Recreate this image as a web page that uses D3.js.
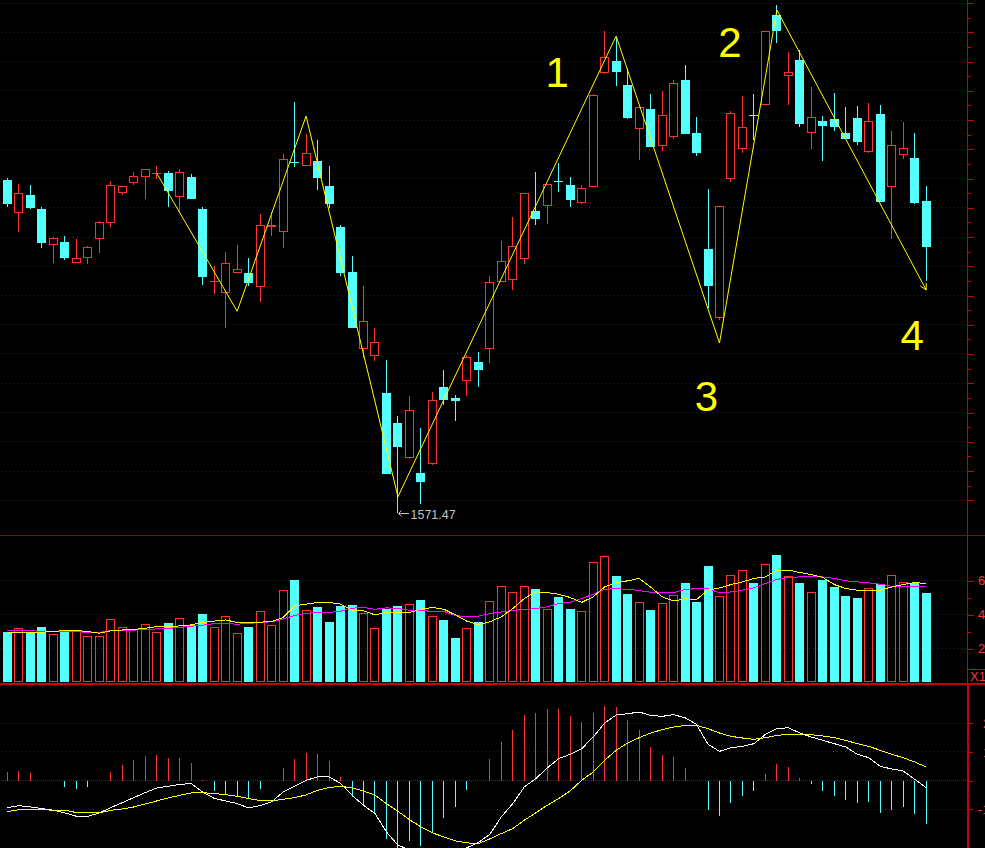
<!DOCTYPE html>
<html><head><meta charset="utf-8">
<script src="https://cdn.jsdelivr.net/npm/d3@7"></script>
<style>html,body{margin:0;padding:0;background:#000;overflow:hidden}svg{display:block}</style>
</head><body>
<svg id="c" width="985" height="848"></svg>
<script>
// ---------- DATA ----------
const open = [1799.0,1776.6,1788.7,1779.1,1754.7,1756.6,1742.4,1745.8,1758.8,1769.8,
  1790.3,1797.1,1801.2,1803.5,1803.8,1787.6,1801.0,1779.1,1729.6,1721.9,
  1735.6,1735.4,1726.0,1767.0,1763.6,1811.2,1808.8,1812.0,1794.9,1766.6,
  1736.1,1683.2,1678.4,1653.1,1632.6,1608.7,1598.6,1604.6,1657.4,1649.9,
  1661.3,1674.5,1683.2,1729.4,1730.4,1744.8,1777.8,1781.0,1798.2,1795.6,
  1783.0,1794.4,1871.9,1880.3,1863.9,1833.6,1847.5,1822.4,1828.2,1867.4,
  1831.1,1751.8,1704.4,1799.5,1820.0,1843.7,1850.5,1911.8,1869.9,1881.0,
  1830.9,1839.3,1840.5,1830.9,1841.2,1818.3,1844.1,1794.0,1815.9,1814.0,1784.6];
const high = [1800.1,1796.2,1795.6,1780.3,1759.8,1760.7,1758.6,1753.8,1770.6,1798.3,
  1795.0,1804.4,1806.5,1808.8,1805.1,1806.5,1803.1,1780.7,1740.2,1749.7,
  1754.5,1745.8,1775.7,1777.3,1816.8,1852.3,1830.2,1826.3,1808.5,1768.2,
  1747.0,1726.5,1697.6,1675.9,1637.6,1651.3,1629.4,1653.8,1669.1,1651.8,
  1679.3,1681.4,1733.3,1757.3,1773.7,1790.1,1804.4,1796.2,1810.6,1801.0,
  1795.6,1857.8,1900.9,1896.1,1875.3,1848.9,1857.8,1859.8,1867.4,1877.6,
  1842.1,1792.8,1781.2,1846.2,1856.4,1857.8,1900.8,1918.6,1886.5,1887.9,
  1862.4,1842.7,1858.3,1848.9,1849.6,1851.4,1850.1,1832.5,1838.6,1830.9,1794.9];
const low = [1780.3,1763.6,1779.1,1752.7,1742.2,1744.3,1742.4,1741.5,1749.1,1766.8,
  1788.7,1795.6,1786.0,1799.7,1780.7,1776.2,1786.0,1727.4,1721.0,1698.0,
  1735.4,1726.7,1715.8,1760.7,1752.7,1808.1,1808.6,1792.1,1780.0,1733.3,
  1697.8,1677.1,1675.4,1598.0,1571.47,1608.5,1577.2,1604.4,1645.3,1634.4,
  1651.5,1657.6,1674.1,1729.2,1724.0,1741.7,1768.4,1769.1,1791.0,1780.7,
  1782.6,1794.2,1871.7,1863.2,1840.7,1812.6,1821.5,1819.0,1826.8,1830.4,
  1815.6,1711.2,1703.2,1797.8,1817.2,1826.3,1850.2,1892.9,1850.5,1835.4,
  1820.0,1812.0,1832.7,1827.0,1822.9,1817.2,1783.9,1758.4,1813.5,1782.6,1729.9];
const close = [1782.6,1789.9,1780.0,1755.9,1759.3,1745.6,1745.6,1753.0,1770.3,1795.6,
  1794.7,1801.5,1806.3,1803.7,1791.7,1804.2,1786.2,1732.9,1729.8,1742.0,
  1737.9,1728.5,1768.0,1768.0,1813.1,1811.0,1817.4,1800.5,1782.8,1735.6,
  1698.0,1702.4,1688.0,1598.2,1616.6,1641.5,1592.7,1648.5,1648.8,1647.7,
  1677.7,1669.3,1729.0,1743.4,1753.6,1789.9,1772.5,1796.0,1798.0,1785.3,
  1793.3,1856.9,1882.9,1873.0,1841.6,1848.7,1821.7,1843.2,1865.1,1830.6,
  1817.6,1726.7,1781.0,1844.6,1835.0,1843.5,1900.6,1901.1,1872.8,1837.5,
  1841.8,1836.1,1835.4,1827.2,1825.2,1839.1,1784.1,1822.7,1820.6,1783.0,1753.4];

const volume = [2.96,3.18,2.96,3.25,2.88,3.04,3.06,2.76,2.76,3.71,
  3.24,3.12,3.47,3.00,3.49,3.82,3.39,4.02,3.29,3.94,
  2.94,3.25,4.18,3.41,5.47,6.02,4.24,4.43,3.55,4.49,
  4.55,4.06,3.18,4.35,4.49,4.59,4.84,3.94,3.66,2.61,
  3.18,3.55,4.82,5.65,5.35,5.65,5.49,4.35,5.02,4.35,
  4.18,7.06,7.47,6.25,5.19,4.76,4.25,4.65,5.12,5.84,
  4.72,6.84,5.06,6.35,6.59,5.84,7.00,7.49,6.29,5.84,
  5.35,6.02,5.61,5.08,4.96,5.53,5.82,6.35,5.94,5.88,5.25];
const volMA5 = [2.94,2.94,2.94,2.96,3.00,3.06,3.06,3.00,2.90,3.04,
  3.09,3.12,3.19,3.29,3.29,3.33,3.39,3.53,3.61,3.68,
  3.53,3.53,3.55,3.59,3.82,4.51,4.61,4.71,4.71,4.61,
  4.25,4.21,3.98,4.12,4.12,4.12,4.31,4.41,4.31,3.98,
  3.61,3.41,3.57,3.86,4.35,4.94,5.33,5.29,5.19,5.00,
  4.71,5.04,5.62,5.88,5.98,6.12,5.62,5.04,4.80,4.92,
  4.88,5.43,5.56,5.76,5.92,6.12,6.21,6.61,6.61,6.47,
  6.35,6.18,5.76,5.53,5.43,5.43,5.43,5.62,5.76,5.88,5.82];
const volMA10 = [3.08,3.06,3.06,3.00,3.00,3.00,3.00,2.94,2.94,3.06,
  3.08,3.08,3.12,3.15,3.18,3.24,3.31,3.37,3.47,3.47,
  3.43,3.47,3.53,3.57,3.74,3.94,4.06,4.12,4.12,4.19,
  4.37,4.41,4.31,4.39,4.35,4.25,4.24,4.18,4.18,3.94,
  3.86,3.90,4.06,4.15,4.25,4.29,4.35,4.45,4.65,4.72,
  4.94,5.19,5.49,5.51,5.49,5.41,5.31,5.29,5.29,5.47,
  5.53,5.53,5.27,5.33,5.43,5.57,5.82,6.06,6.18,6.21,
  6.25,6.21,6.12,5.98,5.92,5.86,5.78,5.66,5.66,5.66,5.66];

const dif = [-9.41,-8.71,-9.18,-9.76,-10.34,-11.27,-12.43,-12.43,-11.27,-9.4,
  -7.67,-5.92,-4.18,-2.56,-1.97,-1.28,-1.05,-4.0,-6.2,-7.08,
  -8.01,-9.52,-8.7,-7.43,-3.95,-1.97,0.12,1.28,1.28,-0.9,
  -5.11,-8.59,-11.50,-17.89,-22.53,-24.1,-27.5,-27.2,-26.1,-25.6,
  -23.4,-21.6,-18.70,-12.66,-8.01,-2.21,0.70,4.41,7.67,9.18,
  11.15,15.21,20.09,22.88,23.34,23.93,22.76,22.42,23.00,21.95,
  19.63,12.66,10.22,11.50,11.96,12.89,16.14,18.12,18.47,16.61,
  15.21,14.05,12.89,11.73,9.18,8.01,4.99,4.07,3.37,0.46,-2.44];
const dea = [-10.80,-10.10,-10.10,-10.10,-10.34,-10.34,-11.15,-11.15,-11.27,-10.34,
  -9.87,-9.18,-8.13,-7.08,-6.04,-5.11,-4.30,-4.18,-4.53,-4.88,
  -5.46,-6.27,-6.97,-7.08,-6.50,-5.92,-4.99,-3.37,-2.44,-1.97,
  -2.56,-3.60,-5.11,-8.01,-10.69,-13.59,-16.14,-18.23,-19.63,-21.02,
  -21.72,-21.95,-20.33,-18.47,-16.72,-13.82,-11.27,-8.59,-6.27,-3.60,
  0.12,3.02,7.08,10.57,13.12,14.98,16.61,17.77,18.70,19.28,
  19.28,18.12,16.61,15.45,14.87,14.40,14.98,15.80,16.14,16.14,
  16.03,15.56,14.98,14.05,12.89,11.96,10.57,9.18,8.01,6.50,4.76];
const macd = [2.9,3.25,2.55,0,-0.2,-2.2,-2.9,-2.2,0,2.9,
  5.35,7.1,8.5,8.8,7.8,7.8,6.05,0.1,-3.6,-4.65,
  -5.35,-6.05,-2.9,-0.2,4.3,7.45,9.65,9.2,6.75,1.15,
  -5.7,-8.8,-11.6,-20.3,-24,-21.0,-22.8,-17.9,-13.0,-9.2,
  -3.25,0,7.45,13.4,17.5,22.8,23.5,24.9,24.9,22.4,
  20.3,23.5,26.2,25.6,21.0,17.5,11.6,8.8,8.1,4.3,
  0,-10.2,-12.3,-7.8,-5.35,-3.6,2.2,5.8,4.65,0.9,
  -1.15,-3.6,-5.35,-6.75,-7.8,-7.45,-11.3,-10.2,-9.2,-11.6,-15.1];

const zigIdx = [13,20,26,34,53,62,67,80];
const zigPrice = [1803.6,1709.2,1842.7,1582.4,1897.4,1687.5,1915.2,1723.8];
const waveText = ["1","3","2","4"];      // labels for zigzag vertices 4,5,6,7
const waveVertex = [4,5,6,7];
const priceTicks = d3.range(1580,1921,20);
const volTicks = [2,4,6];
const macdTicks = [-10,0,10,20];
const macdLabels = ["-10","10","20"];

// ---------- LAYOUT ----------
const W=985,H=848, AXX=967.5;
const RED="#ff3232", CYAN="#54ffff", YEL="#ffff00", MAG="#ff00ff";
const GRID="#860000", AXC="#c80000", TXT="#f03c3c";
const svg=d3.select("#c");
svg.append("rect").attr("width",W).attr("height",H).attr("fill","#000");

const x = d3.scaleLinear().domain([0,80]).range([7.5,926.2]);
const yP = d3.scaleLinear().domain([1580,1920]).range([500.25,3]);
const yV = d3.scaleLinear().domain([0,6]).range([682.5,580.5]);
const yM = d3.scaleLinear().domain([-10,20]).range([809.3,723.3]);
const px = i => Math.floor(x(i))+0.5;
const idx = d3.range(open.length);
const up = i => close[i] >= open[i];

// grids (1px dots)
function grid(vals, sc, dash, col){
  svg.append("g").selectAll("line").data(vals).join("line")
    .attr("x1",1).attr("x2",AXX-0.5)
    .attr("y1",v=>Math.floor(sc(v))+0.5).attr("y2",v=>Math.floor(sc(v))+0.5)
    .attr("stroke",col||GRID).attr("stroke-dasharray",dash);
}
grid(priceTicks, yP, "1,3");
grid(volTicks, yV, "1,3");
grid([-10,10,20], yM, "1,3");
grid([0], yM, "1,1", "#a80000");

// panel separators
svg.append("line").attr("x1",0).attr("x2",W).attr("y1",535.5).attr("y2",535.5).attr("stroke","#900000");
svg.append("rect").attr("x",0).attr("y",683).attr("width",W).attr("height",2).attr("fill",AXC);

// ---------- candles ----------
const cg = svg.append("g").attr("shape-rendering","crispEdges");
idx.forEach(i=>{
  const cx = px(i), yo = yP(open[i]), yc = yP(close[i]), yh = yP(high[i]), yl = yP(low[i]);
  const col = up(i)?RED:CYAN;
  const top = Math.round(Math.min(yo,yc)), bot = Math.round(Math.max(yo,yc));
  if (bot-top < 2){
    cg.append("line").attr("x1",cx).attr("x2",cx).attr("y1",Math.round(yh)).attr("y2",Math.round(yl)).attr("stroke",col);
    cg.append("line").attr("x1",cx-4.5).attr("x2",cx+4.5).attr("y1",top+0.5).attr("y2",top+0.5).attr("stroke",col);
  } else if (up(i)){
    cg.append("line").attr("x1",cx).attr("x2",cx).attr("y1",Math.round(yh)).attr("y2",top).attr("stroke",col);
    cg.append("line").attr("x1",cx).attr("x2",cx).attr("y1",bot).attr("y2",Math.round(yl)).attr("stroke",col);
    cg.append("rect").attr("x",cx-4).attr("y",top+0.5).attr("width",8).attr("height",bot-top-1)
      .attr("fill","#000").attr("stroke",col);
  } else {
    cg.append("line").attr("x1",cx).attr("x2",cx).attr("y1",Math.round(yh)).attr("y2",Math.round(yl)).attr("stroke",col);
    cg.append("rect").attr("x",cx-4.5).attr("y",top).attr("width",9).attr("height",bot-top).attr("fill",col);
  }
});

// zigzag
const zpts = d3.zip(zigIdx, zigPrice);
svg.append("path").datum(zpts)
  .attr("d", d3.line().x(d=>x(d[0])).y(d=>yP(d[1])))
  .attr("fill","none").attr("stroke",YEL).attr("stroke-width",1);
{
  const a = zpts[zpts.length-2], b = zpts[zpts.length-1];
  const ex = x(b[0]), ey = yP(b[1]);
  const th = Math.atan2(ey-yP(a[1]), ex-x(a[0]));
  [0.5,-0.5].forEach(d=>{
    svg.append("line").attr("x1",ex).attr("y1",ey)
      .attr("x2",ex-7*Math.cos(th+d)).attr("y2",ey-7*Math.sin(th+d))
      .attr("stroke",YEL);
  });
}
// wave numbers (offsets from their zigzag vertex)
const waveOff = {"1":[-59,51],"2":[-47,47],"3":[-13,68],"4":[-14,60]};
waveText.forEach((t,k)=>{
  const v = zpts[waveVertex[k]];
  svg.append("text").attr("x",x(v[0])+waveOff[t][0]).attr("y",yP(v[1])+waveOff[t][1])
    .attr("text-anchor","middle").attr("fill",YEL)
    .attr("font-family","Liberation Sans, Arial, sans-serif").attr("font-size",42).text(t);
});

// lowest price marker
{
  const li = d3.minIndex(low);
  const lx = px(li), ly = Math.round(yP(low[li]))+0.5;
  const mg = svg.append("g").attr("stroke","#c0c0c0").attr("shape-rendering","crispEdges");
  mg.append("line").attr("x1",lx+1).attr("x2",lx+11).attr("y1",ly).attr("y2",ly);
  mg.append("path").attr("d",`M${lx+4},${ly-3}L${lx+1},${ly}L${lx+4},${ly+3}`).attr("fill","none").attr("shape-rendering","auto");
  svg.append("text").attr("x",lx+13).attr("y",ly+5.5).attr("fill","#c0c0c0")
    .attr("font-family","Liberation Sans, Arial, sans-serif").attr("font-size",12.5)
    .text(d3.format(".2f")(low[li]));
}

// ---------- volume ----------
const vg = svg.append("g").attr("shape-rendering","crispEdges");
idx.forEach(i=>{
  const cx = px(i), top = Math.round(yV(volume[i])), bot = 682;
  if (up(i)) vg.append("rect").attr("x",cx-4).attr("y",top+0.5).attr("width",8).attr("height",bot-top-1)
      .attr("fill","none").attr("stroke",RED);
  else vg.append("rect").attr("x",cx-4.5).attr("y",top).attr("width",9).attr("height",bot-top).attr("fill",CYAN);
});
svg.append("path").datum(idx).attr("d",d3.line().x(i=>x(i)).y(i=>yV(volMA10[i])))
  .attr("fill","none").attr("stroke",MAG).attr("shape-rendering","crispEdges");
svg.append("path").datum(idx).attr("d",d3.line().x(i=>x(i)).y(i=>yV(volMA5[i])))
  .attr("fill","none").attr("stroke",YEL).attr("shape-rendering","crispEdges");

// ---------- MACD ----------
const mg2 = svg.append("g").attr("shape-rendering","crispEdges");
const z0 = Math.round(yM(0));
idx.forEach(i=>{
  if (Math.abs(macd[i])<0.05) return;
  mg2.append("line").attr("x1",px(i)).attr("x2",px(i)).attr("y1",z0).attr("y2",Math.round(yM(macd[i])))
    .attr("stroke", macd[i]>0?RED:CYAN);
});
svg.append("path").datum(idx).attr("d",d3.line().x(i=>x(i)).y(i=>yM(dea[i])))
  .attr("fill","none").attr("stroke",YEL).attr("shape-rendering","crispEdges");
svg.append("path").datum(idx).attr("d",d3.line().x(i=>x(i)).y(i=>yM(dif[i])))
  .attr("fill","none").attr("stroke","#ffffff").attr("shape-rendering","crispEdges");

// ---------- right axes ----------
svg.append("line").attr("x1",AXX).attr("x2",AXX).attr("y1",0).attr("y2",684).attr("stroke",AXC);
svg.append("rect").attr("x",967).attr("y",684).attr("width",2).attr("height",H-684).attr("fill",AXC);

function ax(sc, vals, size, fmt, pad, tx){
  const g = svg.append("g").attr("transform",`translate(${tx||AXX},0)`)
    .call(d3.axisRight(sc).tickValues(vals).tickSize(size).tickSizeOuter(0).tickPadding(pad||3).tickFormat(fmt||""));
  g.select(".domain").remove();
  g.selectAll("line").attr("stroke",AXC).attr("shape-rendering","crispEdges");
  g.selectAll("text").attr("fill",TXT).attr("font-size",13).attr("font-family","Liberation Sans, Arial, sans-serif");
  return g;
}
ax(yP, priceTicks, 6);
ax(yP, d3.range(1590,1920,20), 3);
ax(yV, volTicks, 6, d3.format("d"), 4.5);
ax(yV, [3,5], 3);
ax(yM, macdTicks, 5, null, 3, 968);
ax(yM, [-5,5,15], 2, null, 3, 968);
// MACD scale labels: the reference shows only their left edges at the window border
macdLabels.forEach(t=>{
  const v = +t;
  svg.append("text").attr("x", v<0?978:983).attr("y",yM(v)).attr("dy","0.35em")
    .attr("fill",TXT).attr("font-size",13).attr("font-family","Liberation Sans, Arial, sans-serif").text(t);
});
// X1 box
svg.append("line").attr("x1",967).attr("x2",W).attr("y1",669.5).attr("y2",669.5).attr("stroke",AXC);
svg.append("text").attr("x",970).attr("y",681).attr("fill",TXT).attr("font-size",13)
  .attr("font-family","Liberation Sans, Arial, sans-serif").text("X1");
</script>
</body></html>
